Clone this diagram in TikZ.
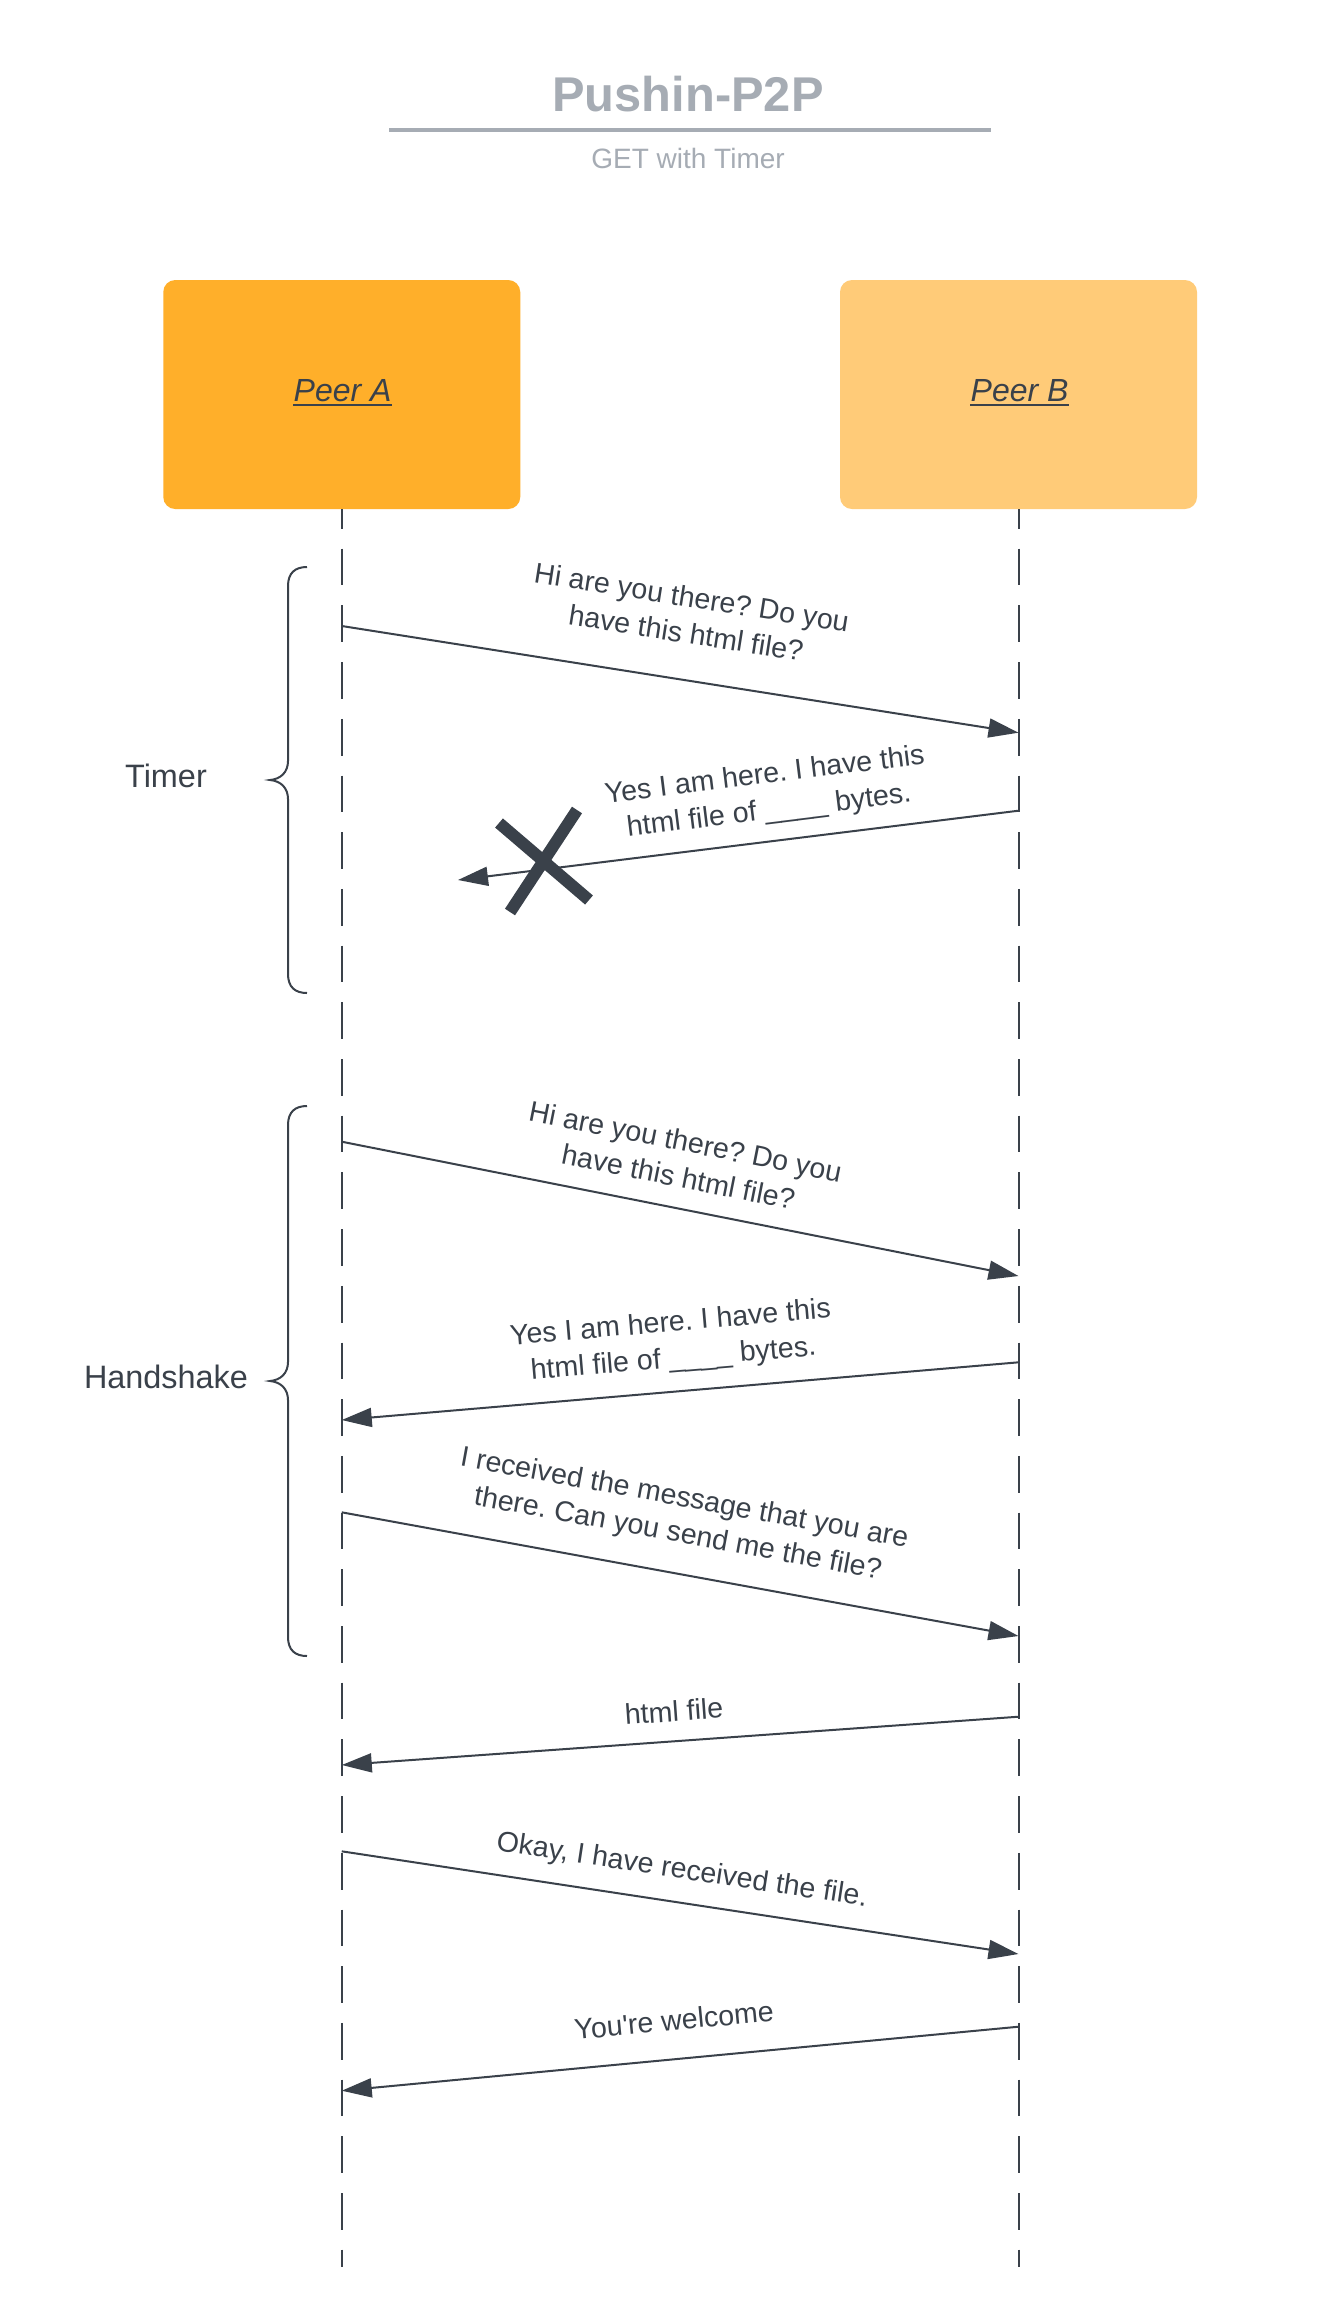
\documentclass[tikz,border=0pt]{standalone}
\usepackage{fontspec}
\setmainfont{Liberation Sans}[Ligatures=TeXOff]
\usetikzlibrary{arrows.meta}
\definecolor{ink}{HTML}{3A414A}
\definecolor{peerA}{HTML}{FFAF2A}
\definecolor{peerB}{HTML}{FFCB78}
\definecolor{titlegray}{HTML}{A6ACB4}
\frenchspacing
\begin{document}
\begin{tikzpicture}[x=0.5pt,y=-0.5pt,
  box/.style={rounded corners=6pt, minimum width=178.5pt, minimum height=114.5pt, inner sep=0pt, draw=none},
  peerlbl/.style={font=\fontsize{16}{19}\selectfont\itshape, text=ink, anchor=base, inner sep=0pt},
  life/.style={draw=ink, line width=1pt, dash pattern=on 18.35pt off 10pt, dash phase=8.7pt},
  msg/.style={draw=ink, line width=1pt, -{Triangle[length=15pt,width=9.5pt]}},
  lbl/.style={font=\fontsize{14.3}{18}\selectfont, text=ink, align=center, inner sep=0pt},
  grp/.style={font=\fontsize{16.2}{19}\selectfont, text=ink, anchor=base, inner sep=0pt},
  brace/.style={draw=ink, line width=1pt},
  xmark/.style={draw=ink, line width=6pt, line cap=butt}
]
\useasboundingbox (0,0) rectangle (1337,2309);
\fill[white] (0,0) rectangle (1337,2309);

% title
\node[font=\fontsize{24.4}{29}\selectfont\bfseries, text=titlegray, anchor=base, inner sep=0pt] (title) at (688,111.7) {Pushin-P2P};
\coordinate (rl) at (389,130);
\coordinate (rr) at (991,130);
\draw[titlegray, line width=1.65pt] (rl) -- (rr);
\node[font=\fontsize{14}{17}\selectfont, text=titlegray, anchor=base, inner sep=0pt] (sub) at (688,168.3) {GET with Timer};

% participants
\node[box, fill=peerA] (A) at (341.75,394.5) {};
\node[box, fill=peerB] (B) at (1018.5,394.5) {};
\node[peerlbl] (Alab) at (342.6,401.7) {Peer A};
\node[peerlbl] (Blab) at (1019.6,401.7) {Peer B};
\draw[ink, line width=1pt] ([yshift=-1.8pt]Alab.base west) -- ([yshift=-1.8pt]Alab.base east);
\draw[ink, line width=1pt] ([yshift=-1.8pt]Blab.base west) -- ([yshift=-1.8pt]Blab.base east);

% lifelines
\coordinate (Aend) at (341.75,2267);
\coordinate (Bend) at (1018.5,2267);
\draw[life] (A.south) -- (Aend);
\draw[life] (B.south) -- (Bend);

% message end points
\coordinate (a1) at (341.75,626);    \coordinate (b1) at (1018.5,732.7);
\coordinate (b2) at (1018.5,810.7);  \coordinate (lost) at (458,880);
\coordinate (a3) at (341.75,1141.7); \coordinate (b3) at (1018.5,1276);
\coordinate (b4) at (1018.5,1362.3); \coordinate (a4) at (341.75,1420);
\coordinate (a5) at (341.75,1512.3); \coordinate (b5) at (1018.5,1636);
\coordinate (b6) at (1018.5,1716.7); \coordinate (a6) at (341.75,1765);
\coordinate (a7) at (341.75,1851.3); \coordinate (b7) at (1018.5,1954);
\coordinate (b8) at (1018.5,2026.7); \coordinate (a8) at (341.75,2090.7);

% messages
\draw[msg] (a1) -- (b1);
\node[lbl, rotate=-8.97] (m1) at (689,615) {Hi are you there? Do you\\have this html file?};
\draw[msg] (b2) -- (lost);
\node[lbl, rotate=7.05] (m2) at (767,794) {Yes I am here. I have this\\html file of \_\_\_\_ bytes.};
\draw[msg] (a3) -- (b3);
\node[lbl, rotate=-11.24] (m3) at (682,1159) {Hi are you there? Do you\\have this html file?};
\draw[msg] (b4) -- (a4);
\node[lbl, rotate=4.88] (m4) at (672,1342) {Yes I am here. I have this\\html file of \_\_\_\_ bytes.};
\draw[msg] (a5) -- (b5);
\node[lbl, rotate=-10.37] (m5) at (681,1517) {I received the message that you are\\there. Can you send me the file?};
\draw[msg] (b6) -- (a6);
\node[lbl, rotate=4.09] (m6) at (674,1711) {html file};
\draw[msg] (a7) -- (b7);
\node[lbl, rotate=-8.64] (m7) at (682,1871) {Okay, I have received the file.};
\draw[msg] (b8) -- (a8);
\node[lbl, rotate=5.41] (m8) at (674,2020) {You're welcome};

% lost-message cross
\coordinate (x1a) at (499,823); \coordinate (x1b) at (589,900);
\coordinate (x2a) at (577,810); \coordinate (x2b) at (510,912);
\draw[xmark] (x1a) -- (x1b);
\draw[xmark] (x2a) -- (x2b);

% braces
\draw[brace] (307,567) .. controls (295,567) and (288,573) .. (288,586) -- (288,761)
  .. controls (288,772) and (281,779) .. (270,780)
  .. controls (281,781) and (288,788) .. (288,799) -- (288,974)
  .. controls (288,987) and (295,993) .. (307,993);
\node[grp] (timer) at (166,787.3) {Timer};

\draw[brace] (307,1106) .. controls (295,1106) and (288,1112) .. (288,1125) -- (288,1362)
  .. controls (288,1373) and (281,1380) .. (270,1381)
  .. controls (281,1382) and (288,1389) .. (288,1400) -- (288,1637)
  .. controls (288,1650) and (295,1656) .. (307,1656);
\node[grp] (hs) at (166,1388) {Handshake};
\end{tikzpicture}
\end{document}
